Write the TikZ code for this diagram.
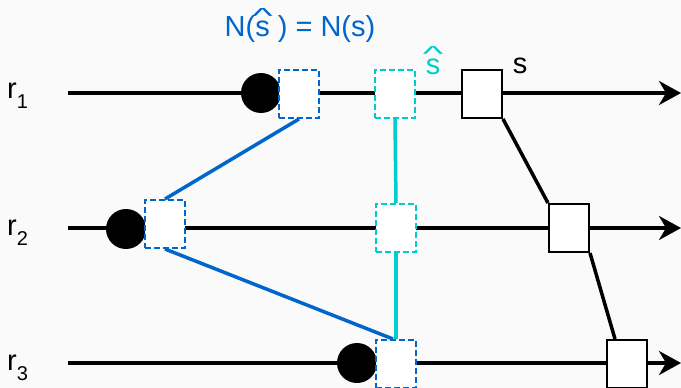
\documentclass[tikz,border=0pt]{standalone}
\usepackage{fontspec}
\usepackage{graphicx}
\setmainfont{Liberation Sans}
\usetikzlibrary{arrows.meta}
\definecolor{bg}{RGB}{250,250,250}
\definecolor{dblue}{HTML}{0066CC}
\definecolor{dcyan}{HTML}{00CCCC}
\newcommand{\rsub}[1]{\raisebox{-10pt}{\fontsize{20}{20}\selectfont #1}}
\newcommand{\shatx}{\ooalign{s\cr\hidewidth\raisebox{13pt}{\scalebox{1.5}[0.75]{\char"5E}}\hidewidth\cr}}
\tikzset{
  every node/.style={font=\fontsize{29}{35}\selectfont},
  proc/.style={draw=black, line width=3.5pt, -{Stealth[length=22pt,width=24pt,inset=7pt]}},
  dot/.style={circle, fill=black, minimum size=40pt, inner sep=0pt},
  sq/.style={rectangle, fill=white, minimum width=40pt, minimum height=48pt, inner sep=0pt, line width=2pt},
  bsq/.style={sq, draw=dblue, dash pattern=on 6pt off 3pt},
  csq/.style={sq, draw=dcyan, dash pattern=on 6pt off 3pt},
  ssq/.style={sq, draw=black},
  bline/.style={draw=dblue, line width=3.5pt},
  cline/.style={draw=dcyan, line width=3.5pt},
  kline/.style={draw=black, line width=3.5pt},
  lab/.style={anchor=base west, inner sep=0pt}
}
\begin{document}
\begin{tikzpicture}[x=1pt,y=-1pt]
\fill[bg] (0,0) rectangle (681,388);
\useasboundingbox (0,0) rectangle (681,388);
% process lines
\coordinate (r1s) at (68,93); \coordinate (r1e) at (681,93);
\coordinate (r2s) at (68,228); \coordinate (r2e) at (681,228);
\coordinate (r3s) at (68,363); \coordinate (r3e) at (681,363);
\draw[proc] (r1s) -- (r1e);
\draw[proc] (r2s) -- (r2e);
\draw[proc] (r3s) -- (r3e);
% labels
\node[lab] (l1) at (7,98) {r\rsub{1}};
\node[lab] (l2) at (7,235) {r\rsub{2}};
\node[lab] (l3) at (7,370) {r\rsub{3}};
% circles
\node[dot] (c1) at (261,93) {};
\node[dot] (c2) at (126,229) {};
\node[dot] (c3) at (357,363) {};
% squares
\node[bsq] (b1) at (299,94) {};
\node[csq] (k1) at (395,94) {};
\node[ssq] (s1) at (482,94) {};
\node[bsq] (b2) at (165,224) {};
\node[csq] (k2) at (396,228) {};
\node[ssq] (s2) at (569,228) {};
\node[csq] (k3) at (396,364) {};
\node[bsq] (b3) at (396,364) {};
\node[ssq] (s3) at (627,364) {};
% connectors
\draw[bline] (b1.south) -- (b2.north);
\draw[bline] (b2.south) -- ([xshift=-3pt]b3.north);
\draw[cline] (k1.south) -- (k2.north);
\draw[cline] (k2.south) -- (k3.north);
\draw[kline] (s1.south east) -- (s2.north west);
\draw[kline] (s2.south east) -- ([xshift=9pt]s3.north west);
% texts
\node[anchor=base, inner sep=0pt, text=dblue] (title) at (300,36) {N(\shatx{} ) = N(s)};
\node[anchor=base, inner sep=0pt, text=dcyan] (shat) at (433,74) {\shatx};
\node[anchor=base, inner sep=0pt] (slab) at (520,73) {s};
\end{tikzpicture}
\end{document}
